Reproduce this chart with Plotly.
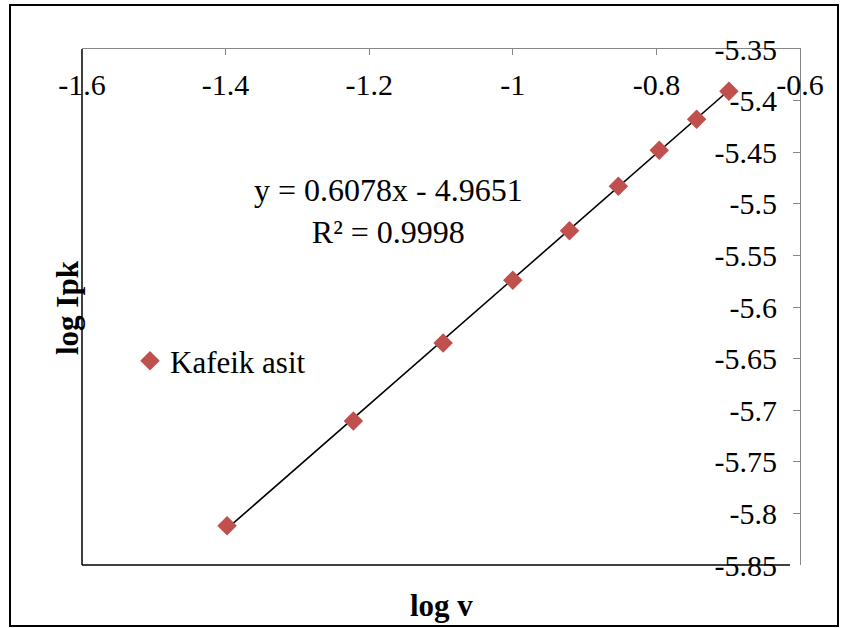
import plotly.graph_objects as go

# ---- data ----
log_v = [-1.398, -1.222, -1.097, -1.000, -0.921, -0.853, -0.796, -0.744, -0.699]
log_ipk = [-5.812, -5.7105, -5.635, -5.574, -5.526, -5.483, -5.448, -5.418, -5.391]
series_name = "Kafeik asit"
slope = 0.6078
intercept = -4.9651
r_squared = 0.9998
x_ticks = [-1.6, -1.4, -1.2, -1.0, -0.8, -0.6]
x_tick_text = ["-1.6", "-1.4", "-1.2", "-1", "-0.8", "-0.6"]
y_ticks = [-5.85, -5.8, -5.75, -5.7, -5.65, -5.6, -5.55, -5.5, -5.45, -5.4, -5.35]
y_tick_text = ["-5.85", "-5.8", "-5.75", "-5.7", "-5.65", "-5.6", "-5.55", "-5.5", "-5.45", "-5.4", "-5.35"]

W, H = 846, 628
L, R, T, B = 82, 800, 49, 565  # plot area in px
FONT = "Liberation Serif"
GRAY = "#868686"
RED = "#C0504D"


def px_x(p):
    return (p - L) / (R - L)


def px_y(p):
    return (B - p) / (B - T)


fig = go.Figure()

# trendline (fitted line over the data range)
tx = [min(log_v), max(log_v)]
ty = [slope * v + intercept for v in tx]
fig.add_trace(go.Scatter(x=tx, y=ty, mode="lines", line=dict(color="black", width=1.6),
                         showlegend=False, hoverinfo="skip"))

fig.add_trace(go.Scatter(x=log_v, y=log_ipk, mode="markers", name=series_name,
                         marker=dict(symbol="diamond", size=15, color=RED)))

# invisible trace so the label axes are drawn
fig.add_trace(go.Scatter(x=log_v, y=log_ipk, mode="markers", xaxis="x2", yaxis="y2",
                         marker=dict(opacity=0), showlegend=False, hoverinfo="skip"))

fig.update_layout(
    width=W, height=H,
    margin=dict(l=L, r=W - R, t=T, b=H - B),
    paper_bgcolor="white", plot_bgcolor="white",
    font=dict(family=FONT, color="black"),
    xaxis=dict(range=[-1.6, -0.6], side="top", showline=True, linecolor=GRAY, linewidth=1.2,
               ticks="inside", ticklen=6, tickcolor=GRAY, tickvals=x_ticks,
               showticklabels=False, showgrid=False, zeroline=False),
    yaxis=dict(range=[-5.85, -5.35], side="right", showline=True, linecolor=GRAY, linewidth=1.2,
               ticks="inside", ticklen=7, tickcolor=GRAY, tickvals=y_ticks,
               showticklabels=False, showgrid=False, zeroline=False),
    xaxis2=dict(range=[-1.6, -0.6], overlaying="x", anchor="free", position=px_y(101), side="top",
                showline=False, ticks="", tickvals=x_ticks, ticktext=x_tick_text,
                tickfont=dict(family=FONT, size=30, color="black"),
                showgrid=False, zeroline=False),
    yaxis2=dict(range=[-5.85, -5.35], overlaying="y", anchor="free", position=px_x(777), side="left",
                showline=False, ticks="", tickvals=y_ticks, ticktext=y_tick_text,
                tickfont=dict(family=FONT, size=30, color="black"),
                showgrid=False, zeroline=False),
    showlegend=True,
    legend=dict(x=px_x(130), y=px_y(361), xanchor="left", yanchor="middle",
                font=dict(family=FONT, size=31, color="black"), bgcolor="rgba(0,0,0,0)",
                borderwidth=0),
)

# plot-area border (left & bottom black) and outer chart frame
fig.add_shape(type="line", xref="paper", yref="paper", x0=0, x1=0, y0=0, y1=1,
              line=dict(color="black", width=1.5), layer="below")
fig.add_shape(type="line", xref="paper", yref="paper", x0=0, x1=px_x(790), y0=0, y1=0,
              line=dict(color="black", width=1.5), layer="below")
fig.add_shape(type="rect", xref="paper", yref="paper",
              x0=px_x(10), x1=px_x(838), y0=px_y(626), y1=px_y(5),
              line=dict(color="black", width=2), fillcolor="rgba(0,0,0,0)", layer="below")

# equation annotation
eq = f"y = {slope:.4f}x - {abs(intercept):.4f}<br>R² = {r_squared:.4f}"
fig.add_annotation(text=eq, xref="paper", yref="paper", x=px_x(388), y=px_y(211),
                   showarrow=False, font=dict(family=FONT, size=32, color="black"),
                   xanchor="center", yanchor="middle", align="center")

# axis titles
fig.add_annotation(text="<b>log v</b>", xref="paper", yref="paper", x=px_x(441), y=px_y(605),
                   showarrow=False, font=dict(family=FONT, size=31, color="black"),
                   xanchor="center", yanchor="middle")
fig.add_annotation(text="<b>log Ipk</b>", xref="paper", yref="paper", x=px_x(67), y=px_y(308),
                   showarrow=False, textangle=-90, font=dict(family=FONT, size=31, color="black"),
                   xanchor="center", yanchor="middle")

fig.write_html("out.html")
